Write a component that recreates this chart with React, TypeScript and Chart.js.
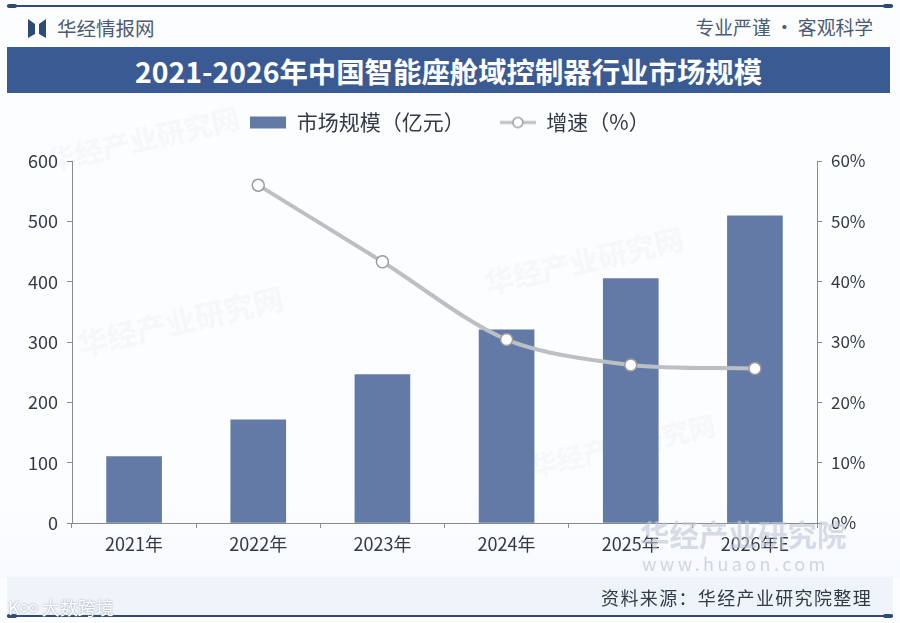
import React, { useEffect, useRef } from 'react';
import { Chart, registerables } from 'chart.js';

Chart.register(...registerables);

const years = ['2021年', '2022年', '2023年', '2024年', '2025年', '2026年E'];
const marketSize = [110, 171, 246, 320, 405, 509];
const growthRate = [null, 56.0, 43.3, 30.4, 26.2, 25.6];

const titleText = '2021-2026年中国智能座舱域控制器行业市场规模';
const barLabel = '市场规模（亿元）';
const lineLabel = '增速（%）';

const BAR_COLOR = '#627aa5';
const LINE_COLOR = '#bcc0c4';
const TEXT_COLOR = '#333a46';
const CJK = '"Noto Sans CJK SC", sans-serif';

// 图例图标
const makeIcon = (line: boolean) => {
  const c = document.createElement('canvas');
  c.width = 36;
  c.height = 14;
  const ctx = c.getContext('2d')!;
  if (line) {
    ctx.fillStyle = LINE_COLOR;
    ctx.fillRect(0, 5.5, 36, 3);
    ctx.beginPath();
    ctx.arc(18, 7, 5, 0, Math.PI * 2);
    ctx.fillStyle = '#fff';
    ctx.fill();
    ctx.strokeStyle = '#999';
    ctx.lineWidth = 1.5;
    ctx.stroke();
  } else {
    ctx.fillStyle = BAR_COLOR;
    ctx.fillRect(0, 1, 36, 12);
  }
  return c;
};

// 固定图例高度，让绘图区从 y=161 开始
const legendHeightPlugin = {
  id: 'legendHeight',
  beforeLayout(chart: any) {
    const legend = chart.legend;
    if (legend && !legend.__fixed) {
      const fit = legend.fit.bind(legend);
      legend.fit = () => {
        fit();
        legend.height = 84;
      };
      legend.__fixed = true;
    }
  },
};

const Txt: React.FC<{ style: React.CSSProperties; children: React.ReactNode }> = ({ style, children }) => (
  <div style={{ position: 'absolute', whiteSpace: 'nowrap', fontFamily: CJK, ...style }}>{children}</div>
);

const marks = [
  { x: 45, y: 118, size: 28 },
  { x: 75, y: 298, size: 30 },
  { x: 482, y: 238, size: 29 },
  { x: 528, y: 425, size: 27 },
];

const App: React.FC = () => {
  const chartRef = useRef<HTMLCanvasElement>(null);

  useEffect(() => {
    if (!chartRef.current) return;
    const chart = new Chart(chartRef.current, {
      type: 'bar',
      plugins: [legendHeightPlugin],
      data: {
        labels: years,
        datasets: [
          {
            type: 'line',
            label: lineLabel,
            data: growthRate,
            yAxisID: 'y1',
            borderColor: LINE_COLOR,
            borderWidth: 4,
            tension: 0.3,
            pointRadius: 6,
            pointBackgroundColor: '#fff',
            pointBorderColor: '#9a9a9a',
            pointBorderWidth: 1.5,
            order: 1,
          },
          {
            type: 'bar',
            label: barLabel,
            data: marketSize,
            yAxisID: 'y',
            backgroundColor: BAR_COLOR,
            barThickness: 55,
            order: 2,
          },
        ],
      },
      options: {
        responsive: false,
        animation: false,
        layout: { padding: { top: 77, bottom: 60, left: 0, right: 0 } },
        plugins: {
          tooltip: { enabled: false },
          legend: {
            position: 'top',
            labels: {
              usePointStyle: true,
              pointStyleWidth: 36,
              padding: 35,
              color: TEXT_COLOR,
              font: { family: CJK, size: 21 },
              generateLabels: () => [
                { text: barLabel, pointStyle: makeIcon(false), fontColor: TEXT_COLOR, datasetIndex: 1 },
                { text: lineLabel, pointStyle: makeIcon(true), fontColor: TEXT_COLOR, datasetIndex: 0 },
              ] as any,
            },
          },
        },
        scales: {
          x: {
            afterFit: (s: any) => { s.height = 40; },
            border: { color: '#8a8a8a' },
            grid: { drawOnChartArea: false, drawTicks: true, tickLength: 5, color: '#8a8a8a' },
            ticks: { color: TEXT_COLOR, padding: 5, maxRotation: 0, font: { family: CJK, size: 18 } },
          },
          y: {
            min: 0,
            max: 600,
            afterFit: (s: any) => { s.width = 72; },
            border: { color: '#8a8a8a' },
            grid: { drawOnChartArea: false, tickLength: 5, color: '#8a8a8a' },
            ticks: { stepSize: 100, color: TEXT_COLOR, padding: 9, font: { family: CJK, size: 18 } },
          },
          y1: {
            position: 'right',
            min: 0,
            max: 60,
            afterFit: (s: any) => { s.width = 83; },
            border: { color: '#8a8a8a' },
            grid: { drawOnChartArea: false, tickLength: 5, color: '#8a8a8a' },
            ticks: {
              stepSize: 10,
              color: TEXT_COLOR,
              padding: 9,
              font: { family: CJK, size: 17 },
              callback: (v: any) => `${v}%`,
            },
          },
        },
      },
    });
    return () => chart.destroy();
  }, []);

  return (
    <div style={{ position: 'fixed', left: 0, top: 0, width: 900, height: 623, overflow: 'hidden', background: '#fcfdff' }}>
      <div style={{ position: 'absolute', left: 0, top: 500, width: 900, height: 78, background: 'linear-gradient(#fcfdff,#f6f9fe)' }} />
      <div style={{ position: 'absolute', left: 7, top: 577, width: 886, height: 39, background: '#eff4fb' }} />
      <div style={{ position: 'absolute', left: 7, top: 5, width: 886, height: 2, background: '#2f4a78' }} />
      <div style={{ position: 'absolute', left: 7, top: 4, width: 10, height: 4, borderRadius: 2, background: '#2f4a78' }} />
      <div style={{ position: 'absolute', left: 883, top: 4, width: 10, height: 4, borderRadius: 2, background: '#2f4a78' }} />
      <div style={{ position: 'absolute', left: 7, top: 615, width: 886, height: 2, background: '#2f4a78' }} />
      <div style={{ position: 'absolute', left: 7, top: 614, width: 10, height: 4, borderRadius: 2, background: '#2f4a78' }} />
      <div style={{ position: 'absolute', left: 883, top: 614, width: 10, height: 4, borderRadius: 2, background: '#2f4a78' }} />

      <svg style={{ position: 'absolute', left: 27, top: 19 }} width="20" height="20">
        <polygon points="1,0 8,5 8,15 1,19" fill="#2f4a78" />
        <polygon points="19,0 12,5 12,15 19,19" fill="#2f4a78" />
      </svg>
      <Txt style={{ left: 57, top: 14, fontSize: 19.5, lineHeight: '28px', color: '#4c5a74' }}>华经情报网</Txt>
      <Txt style={{ right: 27, top: 13, fontSize: 18.8, lineHeight: '28px', color: '#4c5a74' }}>专业严谨 • 客观科学</Txt>

      <div style={{ position: 'absolute', left: 7, top: 47, width: 883, height: 46, background: '#3a5a94' }} />
      <Txt style={{ left: 7, width: 883, top: 48, lineHeight: '46px', textAlign: 'center', fontSize: 28.4, fontWeight: 700, color: '#fff' }}>
        {titleText}
      </Txt>

      {marks.map((m, i) => (
        <Txt key={i} style={{ left: m.x, top: m.y, fontSize: m.size, fontWeight: 700, color: '#f6f7fa', transform: 'rotate(-13deg)' }}>
          华经产业研究网
        </Txt>
      ))}

      <canvas ref={chartRef} width={900} height={623} style={{ position: 'absolute', left: 0, top: 0, display: 'block' }} />

      <Txt style={{ left: 640, top: 514, fontSize: 29.5, lineHeight: '38px', fontWeight: 700, color: 'rgba(190,198,212,0.6)' }}>华经产业研究院</Txt>
      <Txt style={{ left: 642, top: 551, fontSize: 18, lineHeight: '24px', letterSpacing: 3.4, color: 'rgba(190,198,212,0.7)' }}>www.huaon.com</Txt>
      <Txt style={{ right: 28, top: 583, fontSize: 18, lineHeight: '28px', letterSpacing: 1.35, color: TEXT_COLOR }}>资料来源：华经产业研究院整理</Txt>
      <Txt style={{ left: 8, top: 594, fontSize: 18, lineHeight: '26px', color: '#fff', textShadow: '0 0 2px #8a93a3' }}>K∞ 大数跨境</Txt>
    </div>
  );
};

export default App;
